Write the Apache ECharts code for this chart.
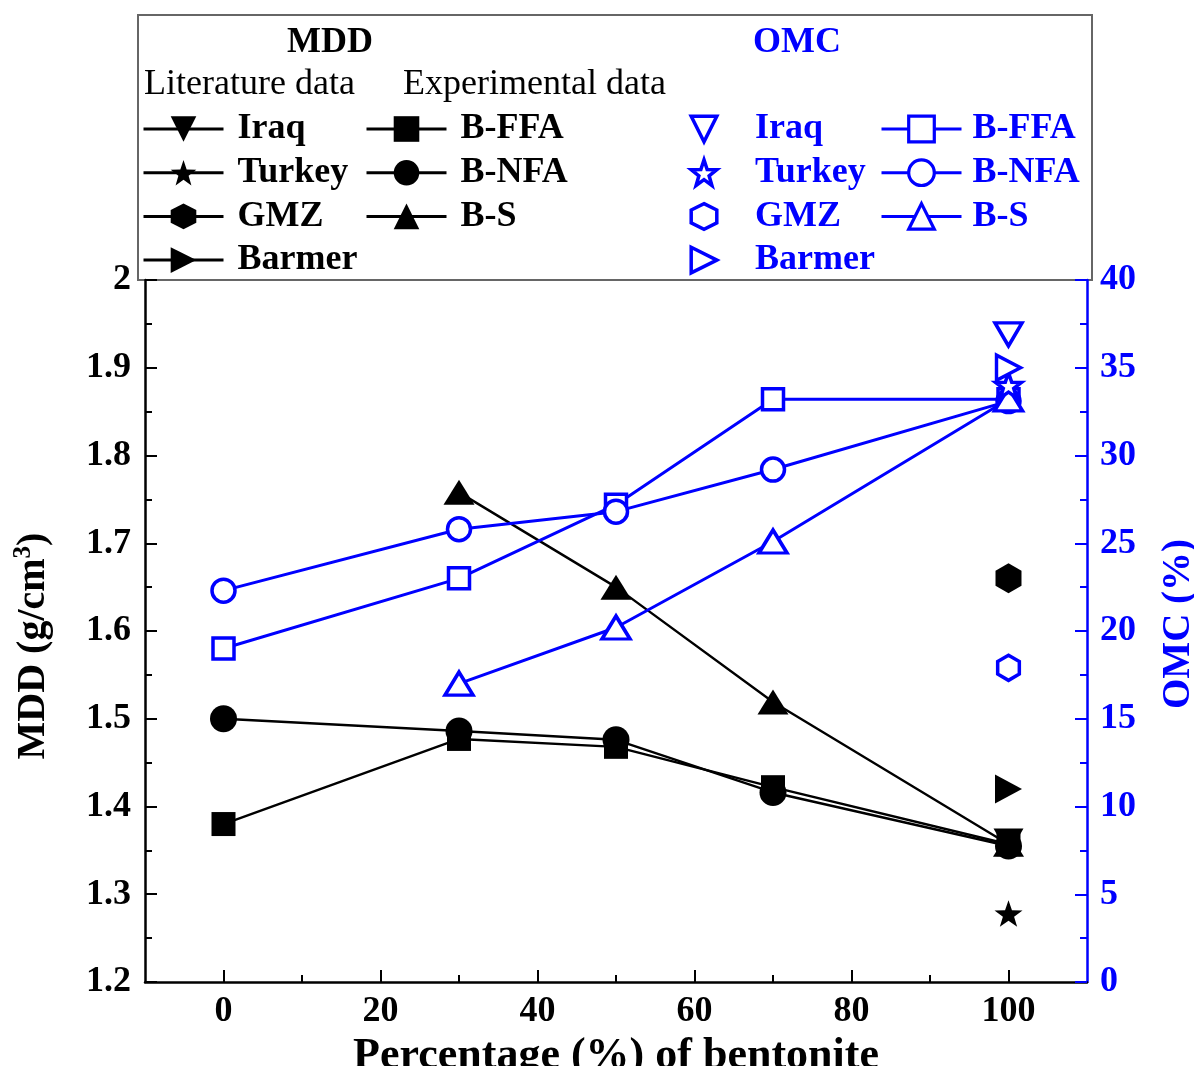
<!DOCTYPE html>
<html>
<head>
<meta charset="utf-8">
<script src="https://cdn.jsdelivr.net/npm/echarts@6/dist/echarts.min.js"></script>
<style>
  html, body { margin: 0; padding: 0; background: #fff; }
  #chart { width: 1194px; height: 1066px; }
</style>
</head>
<body>
<div id="chart"></div>
<script>
// Bentonite content (%) of the experimental mixes
const bentonite = [0, 30, 50, 70, 100];
const bentoniteS = [30, 50, 70, 100];

// Maximum dry density, g/cm3 (experimental)
const mddFFA = [1.38, 1.477, 1.468, 1.422, 1.357];
const mddNFA = [1.50, 1.486, 1.476, 1.416, 1.355];
const mddS = [1.758, 1.650, 1.519, 1.357];

// Optimum moisture content, % (experimental)
const omcFFA = [19.0, 23.0, 27.2, 33.2, 33.2];
const omcNFA = [22.3, 25.8, 26.8, 29.2, 33.1];
const omcS = [17.0, 20.2, 25.1, 33.2];

// Literature values for pure bentonite
const litX = 100;
const litNames = ['Iraq', 'Turkey', 'GMZ', 'Barmer'];
const litMDD = [1.36, 1.278, 1.66, 1.42];
const litOMC = [36.9, 34.0, 17.9, 35.0];

// Axis ticks
const xMajorTicks = [0, 20, 40, 60, 80, 100];
const xMinorTicks = [10, 30, 50, 70, 90];

const BLUE = '#0000ff';
const BLACK = '#000000';
const SERIF = '"Liberation Serif", "Times New Roman", serif';

// Marker shapes
function starPath() {
  const pts = [];
  for (let i = 0; i < 10; i++) {
    const a = (-90 + i * 36) * Math.PI / 180;
    const r = i % 2 ? 0.4 : 1;
    pts.push((r * Math.cos(a)).toFixed(3) + ',' + (r * Math.sin(a)).toFixed(3));
  }
  return 'path://M' + pts.join(' L') + ' Z';
}
const STAR = starPath();
const HEX = 'path://M0,-1 L0.866,-0.5 L0.866,0.5 L0,1 L-0.866,0.5 L-0.866,-0.5 Z';
const SQUARE = 'path://M0,0 L1,0 L1,1 L0,1 Z';
const RING = 'path://M1,0 A1,1 0 1 1 -1,0 A1,1 0 1 1 1,0 Z';
const TRI = 'path://M0,0 L1,2 L-1,2 Z';

const litShapes = {
  Iraq:   { symbol: 'triangle', size: [30, 26], rotate: 180 },
  Turkey: { symbol: STAR, size: 28, rotate: 0 },
  GMZ:    { symbol: HEX, size: 30, rotate: 0 },
  Barmer: { symbol: 'triangle', size: [29, 27], rotate: -90 }
};
const litShapesOpen = {
  Iraq:   { symbol: TRI, size: [27, 23], rotate: 180 },
  Turkey: { symbol: STAR, size: 26, rotate: 0 },
  GMZ:    { symbol: HEX, size: 25, rotate: 0 },
  Barmer: { symbol: TRI, size: [25, 24], rotate: -90 }
};

function pairs(xs, ys) { return xs.map((x, i) => [x, ys[i]]); }

const hollow = { color: '#ffffff', borderColor: BLUE, borderWidth: 3.5 };
const series = [];

// Experimental MDD (black, filled, left axis)
series.push(
  { name: 'MDD|B-FFA', type: 'line', yAxisIndex: 0, data: pairs(bentonite, mddFFA),
    symbol: 'rect', symbolSize: 24, itemStyle: { color: BLACK }, lineStyle: { color: BLACK, width: 2.4 } },
  { name: 'MDD|B-NFA', type: 'line', yAxisIndex: 0, data: pairs(bentonite, mddNFA),
    symbol: 'circle', symbolSize: 27, itemStyle: { color: BLACK }, lineStyle: { color: BLACK, width: 2.4 } },
  { name: 'MDD|B-S', type: 'line', yAxisIndex: 0, data: pairs(bentoniteS, mddS),
    symbol: 'triangle', symbolSize: [31, 25], itemStyle: { color: BLACK }, lineStyle: { color: BLACK, width: 2.4 } }
);

// Experimental OMC (blue, hollow, right axis)
series.push(
  { name: 'OMC|B-FFA', type: 'line', yAxisIndex: 1, data: pairs(bentonite, omcFFA),
    symbol: SQUARE, symbolSize: 21, itemStyle: hollow, lineStyle: { color: BLUE, width: 3 } },
  { name: 'OMC|B-NFA', type: 'line', yAxisIndex: 1, data: pairs(bentonite, omcNFA),
    symbol: RING, symbolSize: 23, itemStyle: hollow, lineStyle: { color: BLUE, width: 3 } },
  { name: 'OMC|B-S', type: 'line', yAxisIndex: 1, data: pairs(bentoniteS, omcS),
    symbol: TRI, symbolSize: [28, 23], itemStyle: hollow, lineStyle: { color: BLUE, width: 3 } }
);

// Literature points
litNames.forEach((n, i) => {
  const s = litShapes[n];
  series.push({
    name: 'MDD|' + n, type: 'line', yAxisIndex: 0, data: [[litX, litMDD[i]]],
    symbol: s.symbol, symbolSize: s.size, symbolRotate: s.rotate, symbolKeepAspect: true,
    itemStyle: { color: BLACK }, lineStyle: { color: BLACK, width: 2.4 }
  });
});
litNames.forEach((n, i) => {
  const s = litShapesOpen[n];
  series.push({
    name: 'OMC|' + n, type: 'line', yAxisIndex: 1, data: [[litX, litOMC[i]]],
    symbol: s.symbol, symbolSize: s.size, symbolRotate: s.rotate, symbolKeepAspect: s.symbol !== TRI,
    itemStyle: hollow,
    lineStyle: { color: BLUE, width: 3, opacity: 0 }
  });
});

const legendText = (color, pad) => ({
  color: color, fontFamily: SERIF, fontWeight: 'bold', fontSize: 36, lineHeight: 36,
  padding: [0, 0, 0, pad]
});
const legendBase = {
  orient: 'vertical', top: 111, padding: 0, itemWidth: 80, itemHeight: 32, itemGap: 7.7,
  selectedMode: false, formatter: (name) => name.split('|')[1]
};

const option = {
  animation: false,
  backgroundColor: '#ffffff',
  grid: { left: 145, right: 107, top: 280, bottom: 84, containLabel: false, outerBoundsMode: 'none' },
  legend: [
    Object.assign({}, legendBase, { left: 142, data: litNames.map(n => 'MDD|' + n), textStyle: legendText(BLACK, 9),
      lineStyle: { width: 3 } }),
    Object.assign({}, legendBase, { left: 365, data: ['MDD|B-FFA', 'MDD|B-NFA', 'MDD|B-S'], textStyle: legendText(BLACK, 9),
      lineStyle: { width: 3 } }),
    Object.assign({}, legendBase, { left: 663, data: litNames.map(n => 'OMC|' + n), textStyle: legendText(BLUE, 6),
      itemStyle: { borderWidth: 3.5 }, lineStyle: { opacity: 0, color: 'rgba(0,0,0,0)' } }),
    Object.assign({}, legendBase, { left: 880, data: ['OMC|B-FFA', 'OMC|B-NFA', 'OMC|B-S'], textStyle: legendText(BLUE, 6),
      itemStyle: { borderWidth: 3.2 }, lineStyle: { width: 3 } })
  ],
  graphic: [
    { type: 'rect', z: 0, shape: { x: 138, y: 15, width: 954, height: 265 },
      style: { fill: 'none', stroke: '#666666', lineWidth: 2 } },
    { type: 'text', style: { x: 330, y: 43, text: 'MDD', align: 'center', verticalAlign: 'middle',
      font: 'bold 36px ' + SERIF, fill: BLACK } },
    { type: 'text', style: { x: 797, y: 43, text: 'OMC', align: 'center', verticalAlign: 'middle',
      font: 'bold 36px ' + SERIF, fill: BLUE } },
    { type: 'text', style: { x: 144, y: 85, text: 'Literature data', align: 'left', verticalAlign: 'middle',
      font: '36px ' + SERIF, fill: BLACK } },
    { type: 'text', style: { x: 403, y: 85, text: 'Experimental data', align: 'left', verticalAlign: 'middle',
      font: '36px ' + SERIF, fill: BLACK } }
  ],
  xAxis: [
    {
      type: 'value', min: -10, max: 110, position: 'bottom',
      name: 'Percentage (%) of bentonite', nameLocation: 'middle', nameGap: 44,
      nameTextStyle: { fontFamily: SERIF, fontWeight: 'bold', fontSize: 44, color: BLACK },
      axisLine: { onZero: false, lineStyle: { color: BLACK, width: 2.5 } },
      axisTick: { inside: true, length: 12, lineStyle: { color: BLACK, width: 2 }, customValues: xMajorTicks },
      axisLabel: { customValues: xMajorTicks, margin: 12, fontFamily: SERIF, fontWeight: 'bold', fontSize: 36, color: BLACK },
      splitLine: { show: false }
    },
    {
      type: 'value', min: -10, max: 110, position: 'bottom', gridIndex: 0,
      axisLine: { show: false, onZero: false },
      axisTick: { inside: true, length: 7, lineStyle: { color: BLACK, width: 2 }, customValues: xMinorTicks },
      axisLabel: { show: false },
      splitLine: { show: false }
    }
  ],
  yAxis: [
    {
      type: 'value', min: 1.2, max: 2.0, interval: 0.1, position: 'left',
      name: '{a|MDD (g/cm}{s|3}{a|)}', nameLocation: 'middle', nameGap: 88,
      nameTextStyle: {
        padding: [0, 30, 0, 0],
        rich: {
          a: { fontFamily: SERIF, fontWeight: 'bold', fontSize: 40, color: BLACK, lineHeight: 46 },
          s: { fontFamily: SERIF, fontWeight: 'bold', fontSize: 25, color: BLACK, lineHeight: 46, verticalAlign: 'top', padding: [0, 0, 16, 0] }
        }
      },
      axisLine: { show: true, onZero: false, lineStyle: { color: BLACK, width: 2.5 } },
      axisTick: { inside: true, length: 12, lineStyle: { color: BLACK, width: 2 } },
      minorTick: { show: true, splitNumber: 2, length: 7, lineStyle: { color: BLACK, width: 2 } },
      axisLabel: { margin: 14, fontFamily: SERIF, fontWeight: 'bold', fontSize: 36, color: BLACK,
        formatter: (v) => (Math.round(v * 10) / 10).toString() },
      splitLine: { show: false }
    },
    {
      type: 'value', min: 0, max: 40, interval: 5, position: 'right',
      name: 'OMC (%)', nameLocation: 'middle', nameGap: 72,
      nameTextStyle: { fontFamily: SERIF, fontWeight: 'bold', fontSize: 39, color: BLUE, padding: [0, 0, 0, 14] },
      axisLine: { show: true, onZero: false, lineStyle: { color: BLUE, width: 2.5 } },
      axisTick: { inside: true, length: 12, lineStyle: { color: BLUE, width: 2 } },
      minorTick: { show: true, splitNumber: 2, length: 7, lineStyle: { color: BLUE, width: 2 } },
      axisLabel: { margin: 13, fontFamily: SERIF, fontWeight: 'bold', fontSize: 36, color: BLUE },
      splitLine: { show: false }
    }
  ],
  series: series
};

const chart = echarts.init(document.getElementById('chart'), null, { renderer: 'canvas' });
chart.setOption(option);
</script>
</body>
</html>
